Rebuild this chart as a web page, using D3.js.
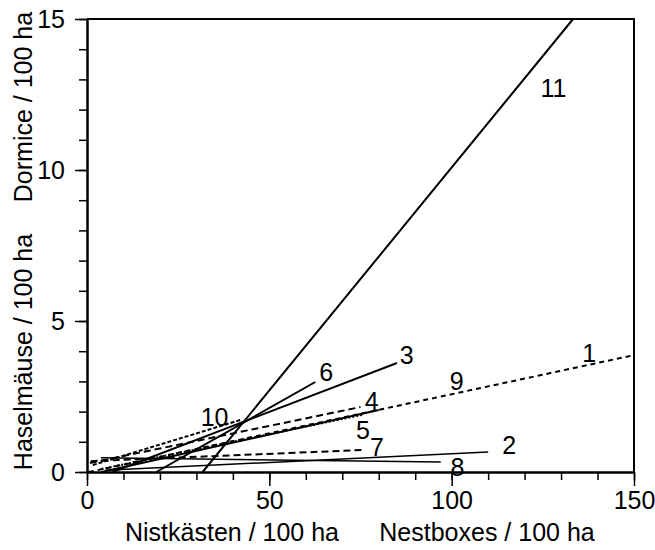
<!DOCTYPE html>
<html>
<head>
<meta charset="utf-8">
<script src="https://cdn.jsdelivr.net/npm/d3@7"></script>
<style>
  body { margin: 0; background: #fff; }
  svg { display: block; font-family: Arial, 'Liberation Sans', sans-serif; }
</style>
</head>
<body>
<svg id="chart" width="655" height="550"></svg>
<script>
// regression lines: id, start (x, y) and end (x, y) in nestboxes / dormice per 100 ha
const lineIds = ['1', '2', '3', '4', '5', '6', '7', '8', '9', '10', '11'];
const startX = [0.5, 5, 7, 0.8, 4, 19, 1, 3.8, 4, 1.6, 31.7];
const startY = [0.0, 0.06, 0, 0.3, 0.1, 0, 0.36, 0.47, 0, 0.23, 0];
const endX = [150, 110, 85, 75, 75.4, 62.6, 76, 97, 80, 42, 133.3];
const endY = [3.87, 0.66, 3.61, 2.15, 1.89, 2.98, 0.73, 0.33, 2.05, 1.72, 15];

// where each number label sits (data units)
const labelX = [137.7, 115.8, 87.7, 78.1, 75.7, 65.6, 79.5, 101.6, 101.4, 35, 127.9];
const labelY = [3.94, 0.89, 3.87, 2.35, 1.39, 3.3, 0.83, 0.17, 3.0, 1.82, 12.7];

const xMajor = [0, 50, 100, 150];
const xMinor = d3.range(0, 151, 10);
const yMajor = [0, 5, 10, 15];
const yMinor = d3.range(0, 16, 1);

// line styles, by id
const dashes = {
  '1': '5,4', '4': '7,4', '5': '2,2', '7': '7,4', '10': '4,2'
};
const thin = {'2': 1.5, '8': 1.5};

const svg = d3.select('#chart');
const fontSize = 25;

const x = d3.scaleLinear().domain([0, 150]).range([87, 634]);
const y = d3.scaleLinear().domain([0, 15]).range([472, 19]);

const lines = lineIds.map((id, i) => ({
  id,
  x0: startX[i], y0: startY[i], x1: endX[i], y1: endY[i],
  lx: labelX[i], ly: labelY[i]
}));

// box
svg.append('path')
  .attr('d', `M${x(0)},${y(15)}H${x(150)}V${y(0)}`)
  .attr('fill', 'none')
  .attr('stroke', '#000')
  .attr('stroke-width', 2);

function styleAxis(g) {
  g.select('.domain').attr('stroke-width', 2);
  g.selectAll('.tick line').attr('stroke-width', 1.5);
  g.selectAll('text').attr('font-size', fontSize).attr('fill', '#000')
    .attr('font-family', 'Arial, "Liberation Sans", sans-serif');
}

svg.append('g')
  .attr('transform', `translate(0,${y(0)})`)
  .call(d3.axisBottom(x).tickValues(xMinor).tickSize(8).tickFormat('').tickSizeOuter(0))
  .call(styleAxis);
svg.append('g')
  .attr('transform', `translate(0,${y(0)})`)
  .call(d3.axisBottom(x).tickValues(xMajor).tickSize(14).tickPadding(5).tickSizeOuter(0))
  .call(styleAxis);

svg.append('g')
  .attr('transform', `translate(${x(0)},0)`)
  .call(d3.axisLeft(y).tickValues(yMinor).tickSize(8).tickFormat('').tickSizeOuter(0))
  .call(styleAxis);
svg.append('g')
  .attr('transform', `translate(${x(0)},0)`)
  .call(d3.axisLeft(y).tickValues(yMajor).tickSize(12).tickPadding(10).tickSizeOuter(0))
  .call(styleAxis);

// regression lines
svg.append('g')
  .selectAll('line')
  .data(lines)
  .enter()
  .append('line')
  .attr('x1', (d) => x(d.x0))
  .attr('y1', (d) => y(d.y0))
  .attr('x2', (d) => x(d.x1))
  .attr('y2', (d) => y(d.y1))
  .attr('stroke', '#000')
  .attr('stroke-width', (d) => thin[d.id] || 2)
  .attr('stroke-dasharray', (d) => dashes[d.id] || null);

svg.append('g')
  .selectAll('text')
  .data(lines)
  .enter()
  .append('text')
  .attr('x', (d) => x(d.lx))
  .attr('y', (d) => y(d.ly))
  .attr('text-anchor', 'middle')
  .attr('dy', '0.35em')
  .attr('font-size', fontSize)
  .text((d) => d.id);

// axis titles
svg.append('text')
  .attr('x', 232).attr('y', 541)
  .attr('text-anchor', 'middle')
  .attr('font-size', fontSize)
  .text('Nistkästen / 100 ha');
svg.append('text')
  .attr('x', 487).attr('y', 541)
  .attr('text-anchor', 'middle')
  .attr('font-size', fontSize)
  .text('Nestboxes / 100 ha');

svg.append('text')
  .attr('transform', 'translate(32,352) rotate(-90)')
  .attr('text-anchor', 'middle')
  .attr('font-size', fontSize)
  .text('Haselmäuse / 100 ha');
svg.append('text')
  .attr('transform', 'translate(32,107) rotate(-90)')
  .attr('text-anchor', 'middle')
  .attr('font-size', fontSize)
  .text('Dormice / 100 ha');
</script>
</body>
</html>
